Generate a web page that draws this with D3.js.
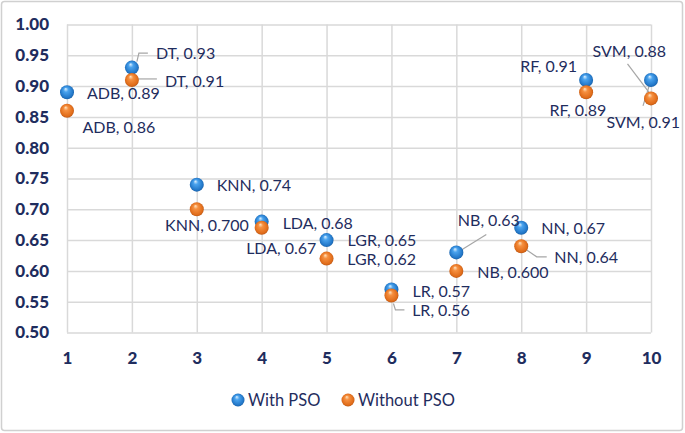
<!DOCTYPE html>
<html><head><meta charset="utf-8">
<script src="https://cdn.jsdelivr.net/npm/d3@7"></script>
<style>
html,body{margin:0;padding:0;background:#fff;}
svg{display:block;}
</style></head>
<body>
<svg id="chart" width="685" height="433"></svg>
<script>
// ---- data ----
const xValues = [1, 2, 3, 4, 5, 6, 7, 8, 9, 10];
const models = ["ADB", "DT", "KNN", "LDA", "LGR", "LR", "NB", "NN", "RF", "SVM"];
const withPSO = [0.89, 0.93, 0.74, 0.68, 0.65, 0.57, 0.63, 0.67, 0.91, 0.91];
const withoutPSO = [0.86, 0.91, 0.70, 0.67, 0.62, 0.56, 0.60, 0.64, 0.89, 0.88];
const withLabels = ["ADB, 0.89", "DT, 0.93", "KNN, 0.74", "LDA, 0.68", "LGR, 0.65", "LR, 0.57", "NB, 0.63", "NN, 0.67", "RF, 0.91", "SVM, 0.91"];
const withoutLabels = ["ADB, 0.86", "DT, 0.91", "KNN, 0.700", "LDA, 0.67", "LGR, 0.62", "LR, 0.56", "NB, 0.600", "NN, 0.64", "RF, 0.89", "SVM, 0.88"];
const yTicks = [0.50, 0.55, 0.60, 0.65, 0.70, 0.75, 0.80, 0.85, 0.90, 0.95, 1.00];
const xTicks = [1, 2, 3, 4, 5, 6, 7, 8, 9, 10];
const seriesNames = ["With PSO", "Without PSO"];

// ---- layout (label placement relative to point, in px) ----
const withLayout = [
  {dx: 20, dy: 1},
  {dx: 24, dy: -14, leader: [[5, -6], [7, -14.5], [16, -14.5]]},
  {dx: 20, dy: 1},
  {dx: 21, dy: 1.5},
  {dx: 21, dy: 0.7},
  {dx: 21, dy: 2.5},
  {dx: 1.5, dy: -32.5, leader: [[1, 0], [30, -18]]},
  {dx: 20, dy: 1},
  {dx: -9, dy: -13.3, anchor: "end"},
  {dx: -44.5, dy: 42.5, leader: [[0, 0], [-8, 26]]}
];
const withoutLayout = [
  {dx: 15.5, dy: 17},
  {dx: 33, dy: 1, leader: [[5, -1], [25, -1]]},
  {dx: 52, dy: 16.3, anchor: "end"},
  {dx: -15.5, dy: 20.3},
  {dx: 20.7, dy: 1},
  {dx: 20.7, dy: 15, leader: [[2, 8], [4, 14.3], [13, 14.3]]},
  {dx: 21, dy: 1.6},
  {dx: 33, dy: 11.6, leader: [[0, 0], [15.5, 10.6], [25.5, 10.6]]},
  {dx: -36.7, dy: 17.7},
  {dx: -58.5, dy: -47.3, leader: [[-23.5, -34.5], [-2, -6]]}
];

(function () {
const svg = d3.select("#chart");
const navy = "#1f2d5e";
const gridColor = "#d9d9d9";
const fontFam = "Lato, 'Liberation Sans', sans-serif";

svg.append("rect").attr("x", 1.5).attr("y", 1.5).attr("width", 681).attr("height", 429)
  .attr("rx", 3).attr("fill", "#fff").attr("stroke", "#d0d0d0").attr("stroke-width", 1.5);

const pL = 67, pR = 651, pT = 24.5, pB = 332.5;
const x = d3.scaleLinear().domain([1, 10]).range([pL, pR]);
const y = d3.scaleLinear().domain([0.5, 1.0]).range([pB, pT]);

const defs = svg.append("defs");
function sphere(id, c0, c1, c2, c3) {
  const g = defs.append("radialGradient").attr("id", id)
    .attr("cx", "50%").attr("cy", "50%").attr("r", "55%")
    .attr("fx", "40%").attr("fy", "25%");
  g.append("stop").attr("offset", "0%").attr("stop-color", c0);
  g.append("stop").attr("offset", "30%").attr("stop-color", c1);
  g.append("stop").attr("offset", "80%").attr("stop-color", c2);
  g.append("stop").attr("offset", "100%").attr("stop-color", c3);
}
sphere("gBlue", "#e0f2ff", "#4aa3ee", "#2277c8", "#17589a");
sphere("gOrange", "#ffe6c4", "#f69040", "#e06c1a", "#ad4f12");

const xGrid = svg.append("g").attr("transform", `translate(0,${pB})`)
  .call(d3.axisBottom(x).tickValues(xTicks).tickSize(-(pB - pT)).tickFormat(""));
xGrid.select(".domain").remove();
xGrid.selectAll("line").attr("stroke", gridColor).attr("stroke-width", 1.5);

const yGrid = svg.append("g").attr("transform", `translate(${pL},0)`)
  .call(d3.axisLeft(y).tickValues(yTicks).tickSize(-(pR - pL)).tickFormat(""));
yGrid.select(".domain").remove();
yGrid.selectAll("line").attr("stroke", gridColor).attr("stroke-width", 1.5);

const yAxis = svg.append("g").attr("transform", `translate(${pL},0)`)
  .call(d3.axisLeft(y).tickValues(yTicks).tickSize(0).tickPadding(18).tickFormat(d3.format(".2f")));
yAxis.select(".domain").remove();
yAxis.selectAll("text").attr("fill", navy).attr("font-family", fontFam)
  .attr("font-weight", "900").attr("font-size", 17);

const xAxis = svg.append("g").attr("transform", `translate(0,${pB})`)
  .call(d3.axisBottom(x).tickValues(xTicks).tickSize(0).tickPadding(19).tickFormat(d3.format("d")));
xAxis.select(".domain").remove();
xAxis.selectAll("text").attr("fill", navy).attr("font-family", fontFam)
  .attr("font-weight", "900").attr("font-size", 17);

const series = [
  {vals: withPSO, labels: withLabels, layout: withLayout, fill: "url(#gBlue)"},
  {vals: withoutPSO, labels: withoutLabels, layout: withoutLayout, fill: "url(#gOrange)"}
];

const line = d3.line();
series.forEach(s => {
  s.vals.forEach((v, i) => {
    const L = s.layout[i];
    if (!L.leader) return;
    const px = x(xValues[i]), py = y(v);
    svg.append("path").attr("d", line(L.leader.map(p => [px + p[0], py + p[1]])))
      .attr("fill", "none").attr("stroke", "#a6a6a6").attr("stroke-width", 1.2);
  });
});

series.forEach(s => {
  svg.append("g").selectAll("circle").data(s.vals).join("circle")
    .attr("cx", (d, i) => x(xValues[i])).attr("cy", d => y(d)).attr("r", 7)
    .attr("fill", s.fill);
});

series.forEach(s => {
  svg.append("g").selectAll("text").data(s.vals).join("text")
    .attr("x", (d, i) => x(xValues[i]) + s.layout[i].dx)
    .attr("y", (d, i) => y(d) + s.layout[i].dy)
    .attr("dy", "0.35em")
    .attr("text-anchor", (d, i) => s.layout[i].anchor || "start")
    .attr("fill", navy).attr("font-family", fontFam).attr("font-size", 16)
    .text((d, i) => s.labels[i]);
});

const legend = svg.append("g");
const legendItems = [
  {name: seriesNames[0], fill: "url(#gBlue)", cx: 238, tx: 248},
  {name: seriesNames[1], fill: "url(#gOrange)", cx: 348, tx: 358}
];
legendItems.forEach(it => {
  legend.append("circle").attr("cx", it.cx).attr("cy", 400).attr("r", 6.5).attr("fill", it.fill);
  legend.append("text").attr("x", it.tx).attr("y", 400).attr("dy", "0.35em")
    .attr("fill", navy).attr("font-family", fontFam).attr("font-size", 16.5).text(it.name);
});
})();
</script>
</body></html>
